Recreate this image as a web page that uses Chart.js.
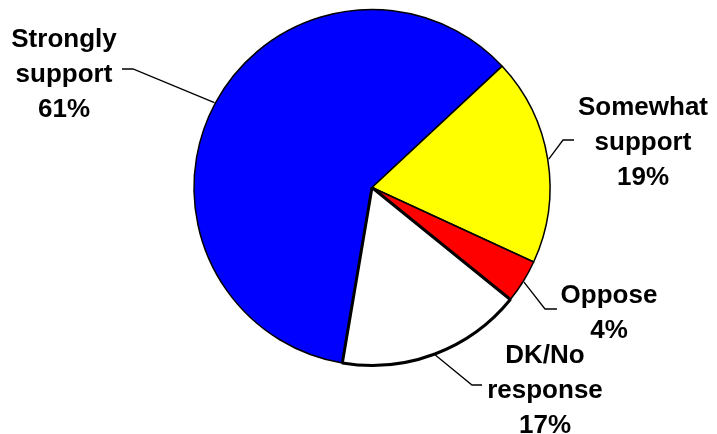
<!DOCTYPE html>
<html>
<head>
<meta charset="utf-8">
<script src="https://cdn.jsdelivr.net/npm/chart.js@4/dist/chart.umd.min.js"></script>
<style>
  html, body { margin: 0; padding: 0; background: #fff; }
</style>
</head>
<body>
<canvas id="myChart" width="717" height="434"></canvas>
<script>
/*
 * DATA
 */
	var categories = ['Strongly support', 'Somewhat support', 'Oppose', 'DK/No response'];
	var values = [61, 19, 4, 17];
	var colors = ['#0000FF', '#FFFF00', '#FF0000', '#FFFFFF'];

	/* label placement: text centre x, first baseline, leader elbow, leader end */
	var labelPos = [
		{ x: 64,  y: 47,  elbow: [133, 69],  end: [122, 69] },
		{ x: 643, y: 115, elbow: [563, 140], end: [574, 140] },
		{ x: 609, y: 303, elbow: [545, 309], end: [557, 309] },
		{ x: 545, y: 363, elbow: [472, 385], end: [482, 385] }
	];

/*
 * LABEL PLUGIN - text blocks with leader lines
 */
	var pieLabels = {
		id: 'pieLabels',
		afterDatasetsDraw: function(chart) {
			var ctx = chart.ctx;
			var arcs = chart.getDatasetMeta(0).data;
			ctx.save();
			ctx.font = 'bold 26px "Liberation Sans", Arial, sans-serif';
			ctx.fillStyle = '#000';
			ctx.strokeStyle = '#000';
			ctx.lineWidth = 1.3;
			ctx.textAlign = 'center';
			ctx.textBaseline = 'alphabetic';

			for (var i = 0; i < arcs.length; i++) {
				var arc = arcs[i];
				var pos = labelPos[i];
				var mid = (arc.startAngle + arc.endAngle) / 2;
				var sx = arc.x + Math.cos(mid) * (arc.outerRadius + 1);
				var sy = arc.y + Math.sin(mid) * (arc.outerRadius + 1);

				ctx.beginPath();
				ctx.moveTo(sx, sy);
				ctx.lineTo(pos.elbow[0], pos.elbow[1]);
				ctx.lineTo(pos.end[0], pos.end[1]);
				ctx.stroke();

				var lines = categories[i].split(' ');
				lines.push(values[i] + '%');
				for (var j = 0; j < lines.length; j++) {
					ctx.fillText(lines[j], pos.x, pos.y + j * 35);
				}
			}
			ctx.restore();
		}
	};

	var myChart = new Chart(document.getElementById('myChart'), {
		type: 'pie',
		data: {
			labels: categories,
			datasets: [{
				data: values,
				backgroundColor: colors,
				borderColor: '#000',
				borderWidth: [1.5, 1.5, 1.5, 3]
			}]
		},
		options: {
			responsive: false,
			animation: false,
			rotation: 189.6,
			radius: 178,
			layout: {
				padding: { top: 9, bottom: 68, left: 194, right: 167 }
			},
			plugins: {
				legend: { display: false },
				tooltip: { enabled: false }
			}
		},
		plugins: [pieLabels]
	});
</script>
</body>
</html>
